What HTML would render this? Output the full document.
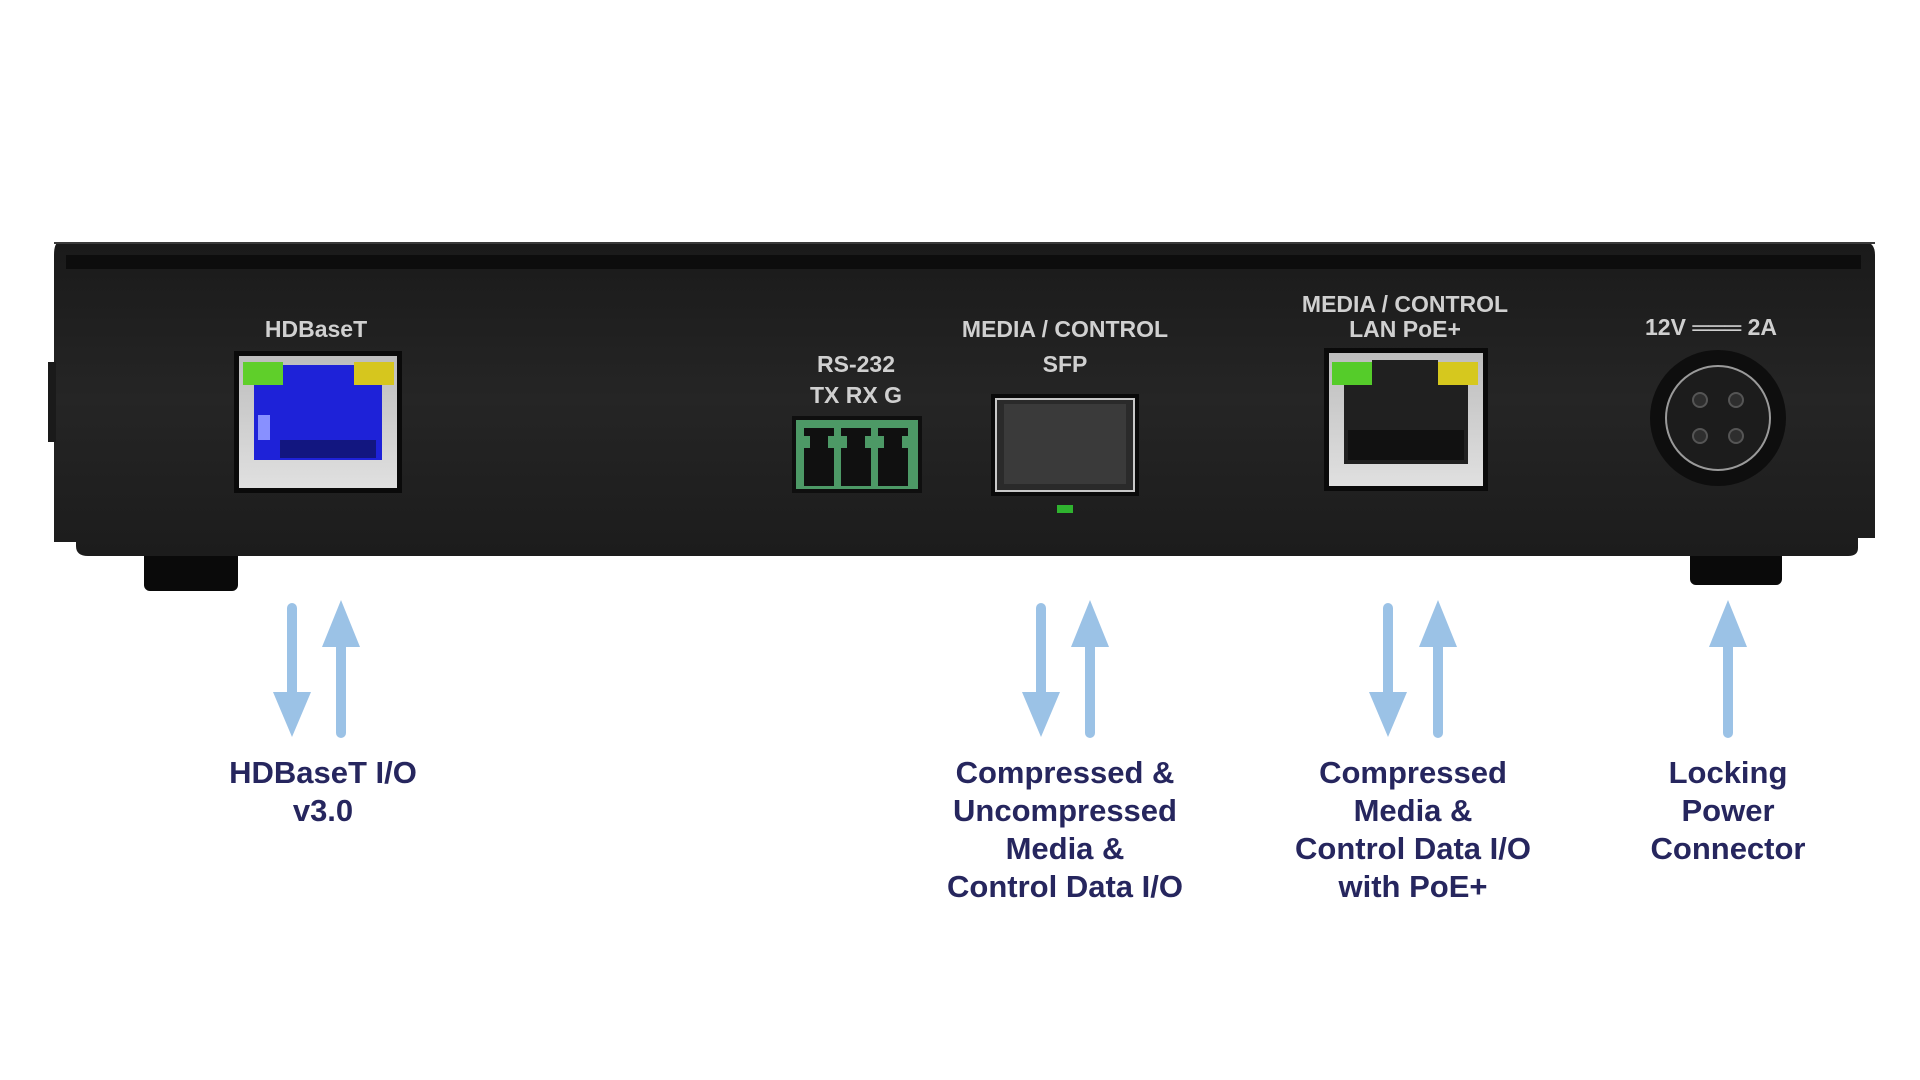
<!DOCTYPE html>
<html><head><meta charset="utf-8"><style>
html,body{margin:0;padding:0;background:#fff;width:1920px;height:1080px;overflow:hidden}
svg{display:block}
.pl{font-family:"Liberation Sans",sans-serif;font-weight:bold;fill:#d0d0d0;font-size:23px;text-anchor:middle}
.lb{font-family:"Liberation Sans",sans-serif;font-weight:bold;fill:#26265e;font-size:31px;text-anchor:middle}
</style></head><body>
<svg width="1920" height="1080" viewBox="0 0 1920 1080" xmlns="http://www.w3.org/2000/svg">
<defs>
<linearGradient id="bd" x1="0" y1="0" x2="0" y2="1">
<stop offset="0" stop-color="#1a1a1a"/><stop offset="0.5" stop-color="#252525"/><stop offset="1" stop-color="#1c1c1c"/>
</linearGradient>
<linearGradient id="mt" x1="0" y1="0" x2="0" y2="1">
<stop offset="0" stop-color="#bdbdbd"/><stop offset="1" stop-color="#e0e0e0"/>
</linearGradient>
</defs>
<rect x="144" y="548" width="94" height="43" rx="6" fill="#0a0a0a"/>
<rect x="1690" y="544" width="92" height="41" rx="6" fill="#0a0a0a"/>
<path d="M60 242 H1864 Q1875 242 1875 255 V538 H1858 V548 Q1858 556 1848 556 H88 Q76 556 76 546 V542 H54 V255 Q54 242 60 242 Z" fill="url(#bd)"/>
<rect x="48" y="362" width="8" height="80" fill="#1a1a1a"/>
<rect x="66" y="255" width="1795" height="14" fill="#0d0d0d"/>
<rect x="54" y="242" width="1821" height="2" fill="#3a3a3a"/>

<text class="pl" x="316" y="337">HDBaseT</text>
<rect x="234" y="351" width="168" height="142" fill="#0a0a0a"/>
<rect x="239" y="356" width="158" height="132" fill="url(#mt)"/>
<rect x="254" y="378" width="128" height="82" fill="#1e22d8"/>
<rect x="280" y="365" width="76" height="16" fill="#1e22d8"/>
<rect x="243" y="362" width="40" height="23" fill="#5fcf2a"/>
<rect x="354" y="362" width="40" height="23" fill="#d6c61e"/>
<rect x="258" y="415" width="12" height="25" fill="#8890ff"/>
<rect x="280" y="440" width="96" height="18" fill="#121680"/>

<g transform="translate(-6,0)">
<text class="pl" x="862" y="372">RS-232</text>
<text class="pl" x="862" y="403">TX RX G</text>
<rect x="798" y="416" width="130" height="77" fill="#0f0f0f"/>
<rect x="802" y="420" width="122" height="69" fill="#4d9966"/>
<g fill="#101010">
<rect x="810" y="428" width="30" height="58"/><rect x="847" y="428" width="30" height="58"/><rect x="884" y="428" width="30" height="58"/>
</g>
<g fill="#4d9966"><rect x="810" y="436" width="6" height="12"/><rect x="834" y="436" width="6" height="12"/><rect x="847" y="436" width="6" height="12"/><rect x="871" y="436" width="6" height="12"/><rect x="884" y="436" width="6" height="12"/><rect x="908" y="436" width="6" height="12"/></g>

<text class="pl" x="1071" y="337">MEDIA / CONTROL</text>
<text class="pl" x="1071" y="372">SFP</text>
<rect x="997" y="394" width="148" height="102" fill="#0a0a0a"/>
<rect x="1002" y="399" width="138" height="92" fill="#2a2a2a" stroke="#c8c8c8" stroke-width="2"/>
<rect x="1010" y="404" width="122" height="80" fill="#3a3a3a"/>
<rect x="1063" y="505" width="16" height="8" fill="#2fb32f"/>
</g>

<g transform="translate(-8,0)">
<text class="pl" x="1413" y="312">MEDIA / CONTROL</text>
<text class="pl" x="1413" y="337">LAN   PoE+</text>
<rect x="1332" y="348" width="164" height="143" fill="#0a0a0a"/>
<rect x="1337" y="353" width="154" height="133" fill="url(#mt)"/>
<rect x="1352" y="376" width="124" height="88" fill="#202020"/>
<rect x="1380" y="360" width="66" height="20" fill="#202020"/>
<rect x="1340" y="362" width="40" height="23" fill="#55cc2a"/>
<rect x="1446" y="362" width="40" height="23" fill="#d6c81e"/>
<rect x="1356" y="430" width="116" height="30" fill="#111"/>

<text class="pl" x="1719" y="335">12V ═══ 2A</text>
<circle cx="1726" cy="418" r="68" fill="#0e0e0e"/>
<circle cx="1726" cy="418" r="52" fill="#1c1c1c" stroke="#9a9a9a" stroke-width="2"/>
<g fill="#2e2e2e" stroke="#555" stroke-width="2"><circle cx="1708" cy="400" r="7"/><circle cx="1744" cy="400" r="7"/><circle cx="1708" cy="436" r="7"/><circle cx="1744" cy="436" r="7"/></g>
</g>

<g fill="#9bc2e6" stroke="#9bc2e6">
<g stroke-width="10" stroke-linecap="round">
<line x1="292" y1="608" x2="292" y2="700"/><line x1="341" y1="640" x2="341" y2="733"/>
<line x1="1041" y1="608" x2="1041" y2="700"/><line x1="1090" y1="640" x2="1090" y2="733"/>
<line x1="1388" y1="608" x2="1388" y2="700"/><line x1="1438" y1="640" x2="1438" y2="733"/>
<line x1="1728" y1="640" x2="1728" y2="733"/>
</g>
<g stroke="none">
<polygon points="273,692 311,692 292,737"/><polygon points="322,647 360,647 341,600"/>
<polygon points="1022,692 1060,692 1041,737"/><polygon points="1071,647 1109,647 1090,600"/>
<polygon points="1369,692 1407,692 1388,737"/><polygon points="1419,647 1457,647 1438,600"/>
<polygon points="1709,647 1747,647 1728,600"/>
</g>
</g>

<text class="lb" x="323" y="783">HDBaseT I/O</text>
<text class="lb" x="323" y="821">v3.0</text>
<text class="lb" x="1065" y="783">Compressed &amp;</text>
<text class="lb" x="1065" y="821">Uncompressed</text>
<text class="lb" x="1065" y="859">Media &amp;</text>
<text class="lb" x="1065" y="897">Control Data I/O</text>
<text class="lb" x="1413" y="783">Compressed</text>
<text class="lb" x="1413" y="821">Media &amp;</text>
<text class="lb" x="1413" y="859">Control Data I/O</text>
<text class="lb" x="1413" y="897">with PoE+</text>
<text class="lb" x="1728" y="783">Locking</text>
<text class="lb" x="1728" y="821">Power</text>
<text class="lb" x="1728" y="859">Connector</text>
</svg>
</body></html>
